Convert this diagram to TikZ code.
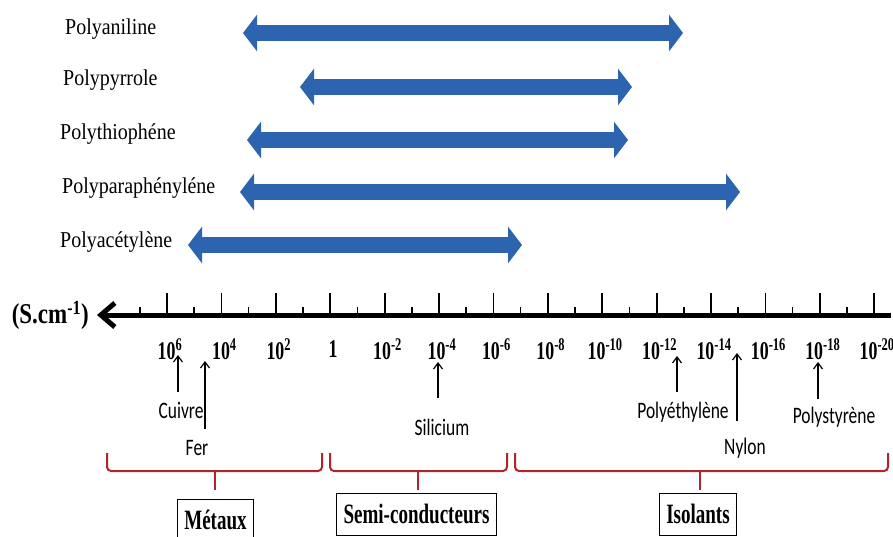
\documentclass[tikz,border=0pt]{standalone}
\usepackage{fontspec}
\setmainfont{Liberation Serif}
\newfontfamily\namefont{Liberation Serif}[FakeStretch=0.88]
\newfontfamily\tickfont{Liberation Serif}[FakeStretch=0.70]
\newfontfamily\catfont{Liberation Serif}[FakeStretch=0.68]
\newfontfamily\unitfont{Liberation Serif}[FakeStretch=0.80]
\newfontfamily\matfont{Carlito}[FakeStretch=0.74]
\usepackage{xcolor}
\usepackage{tikz}
\usetikzlibrary{positioning,arrows.meta}

\definecolor{bandblue}{RGB}{44,100,176}
\definecolor{bracered}{RGB}{176,38,40}

\begin{document}
\begin{tikzpicture}[
    x=1pt, y=-1pt,
    polyname/.style={anchor=west, inner sep=0pt, font=\namefont\fontsize{22.7}{24}\selectfont},
    band/.style={draw=bandblue, line width=16pt,
                 {Triangle[width=36pt,length=14pt]}-{Triangle[width=36pt,length=14pt]}},
    axis/.style={line width=5pt, -{Straight Barb[length=14pt,width=24pt]}},
    major/.style={line width=1.8pt},
    minor/.style={line width=1.5pt},
    ticklab/.style={inner sep=0pt, font=\tickfont\fontsize{25.5}{27}\selectfont\bfseries},
    mat/.style={inner sep=0pt, font=\matfont\fontsize{23.6}{25}\selectfont},
    ptr/.style={line width=1.2pt, -{Straight Barb[length=6pt,width=9pt]}},
    brace/.style={draw=bracered, line width=2pt, rounded corners=4pt},
    cat/.style={draw, line width=1pt, inner xsep=7pt, minimum height=42pt,
                font=\catfont\fontsize{28}{30}\selectfont\bfseries},
  ]
  \useasboundingbox (0,0) rectangle (893,536);

  % Polymer ranges
  \node[polyname] (pani) at (65,29)  {Polyaniline};
  \node[polyname] (ppy)  at (63,80)  {Polypyrrole};
  \node[polyname] (pth)  at (60,134) {Polythiophéne};
  \node[polyname] (ppp)  at (62,188) {Polyparaphényléne};
  \node[polyname] (pac)  at (60,242) {Polyacétylène};
  \coordinate (pani-l) at (243,33);  \coordinate (pani-r) at (683,33);
  \coordinate (ppy-l)  at (300,87);  \coordinate (ppy-r)  at (632,87);
  \coordinate (pth-l)  at (247,140); \coordinate (pth-r)  at (628,140);
  \coordinate (ppp-l)  at (240,192); \coordinate (ppp-r)  at (740,192);
  \coordinate (pac-l)  at (188,245); \coordinate (pac-r)  at (522,245);
  \draw[band] (pani-l) -- (pani-r);
  \draw[band] (ppy-l)  -- (ppy-r);
  \draw[band] (pth-l)  -- (pth-r);
  \draw[band] (ppp-l)  -- (ppp-r);
  \draw[band] (pac-l)  -- (pac-r);

  % Conductivity axis
  \node[anchor=east, inner sep=0pt, font=\unitfont\fontsize{28.7}{30}\selectfont\bfseries]
    (unit) at (89,315) {(S.cm\textsuperscript{-1})};
  \coordinate (axL) at (97,315);
  \coordinate (axR) at (891,315);
  \foreach \lab [count=\i from 0] in {10\textsuperscript{6}, 10\textsuperscript{4},
      10\textsuperscript{2}, 1, 10\textsuperscript{-2}, 10\textsuperscript{-4},
      10\textsuperscript{-6}, 10\textsuperscript{-8}, 10\textsuperscript{-10},
      10\textsuperscript{-12}, 10\textsuperscript{-14}, 10\textsuperscript{-16},
      10\textsuperscript{-18}, 10\textsuperscript{-20}} {
    \draw[major] (167+54.4*\i,293) -- (167+54.4*\i,314);
    \draw[minor] (139.8+54.4*\i,307) -- (139.8+54.4*\i,314);
    \node[ticklab] (t\i) at (170+54.4*\i,349) {\lab};
  }
  \draw[axis] (axR) -- (axL);

  % Materials
  \node[mat] (cuivre) at (181,410) {Cuivre};
  \node[mat] (fer)    at (197,448) {Fer};
  \node[mat] (si)     at (442,427) {Silicium};
  \node[mat] (pe)     at (683,412) {Polyéthylène};
  \node[mat] (nylon)  at (745,448) {Nylon};
  \node[mat] (ps)     at (834,417) {Polystyrène};
  \coordinate (cuivre-b) at (178,392); \coordinate (cuivre-t) at (178,355);
  \coordinate (fer-b)    at (205,429); \coordinate (fer-t)    at (205,361);
  \coordinate (si-b)     at (438,398); \coordinate (si-t)     at (438,362);
  \coordinate (pe-b)     at (677,392); \coordinate (pe-t)     at (677,356);
  \coordinate (nylon-b)  at (737,421); \coordinate (nylon-t)  at (737,353);
  \coordinate (ps-b)     at (818,399); \coordinate (ps-t)     at (818,362);
  \draw[ptr] (cuivre-b) -- (cuivre-t);
  \draw[ptr] (fer-b)    -- (fer-t);
  \draw[ptr] (si-b)     -- (si-t);
  \draw[ptr] (pe-b)     -- (pe-t);
  \draw[ptr] (nylon-b)  -- (nylon-t);
  \draw[ptr] (ps-b)     -- (ps-t);

  % Classes
  \foreach \l/\m/\r in {107/215/322, 330/418/507, 515/700/888} {
    \draw[brace] (\l,453) |- (\r,471) -- (\r,453);
    \draw[brace] (\m,471) -- (\m,490);
  }
  \node[cat] (metaux) at (215.5,520) {Métaux};
  \node[cat] (semi)   at (416.5,514) {Semi-conducteurs};
  \node[cat] (isol)   at (698,514)   {Isolants};
\end{tikzpicture}
\end{document}
